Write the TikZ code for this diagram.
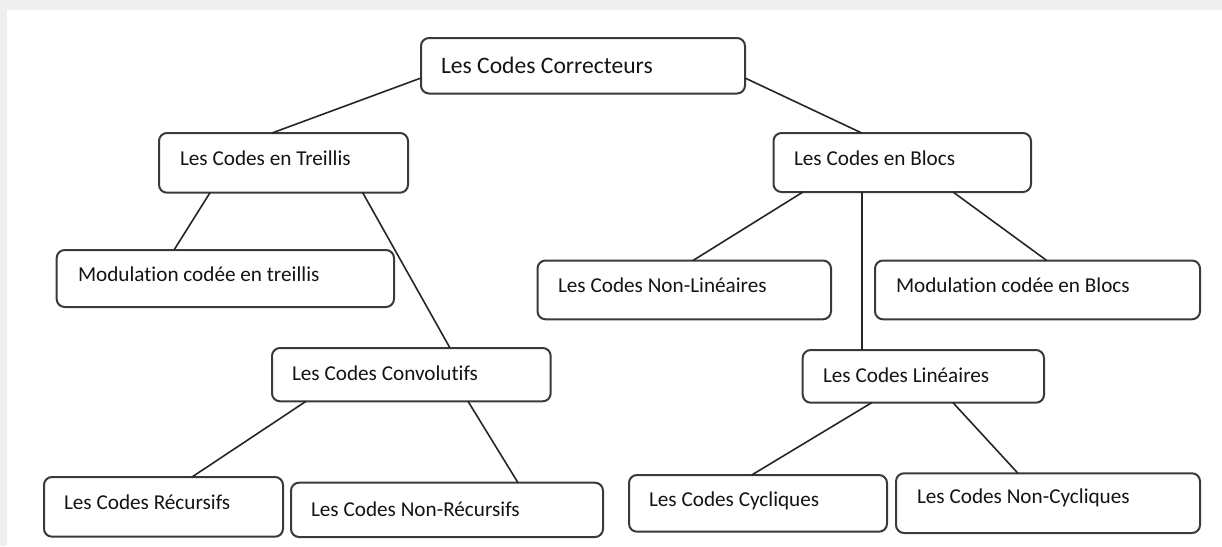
\documentclass[tikz,border=0pt]{standalone}
\usepackage{fontspec}
\setmainfont{Carlito}[Ligatures={NoCommon,TeX}]
\usetikzlibrary{calc}
\definecolor{bggray}{HTML}{EFEFEF}
\definecolor{boxline}{HTML}{3A3A3A}
\definecolor{conline}{HTML}{262626}
\definecolor{txt}{HTML}{141414}
\tikzset{
  box/.style={draw=boxline, line width=2pt, rounded corners=8pt, fill=white, inner sep=0pt, outer sep=0pt},
  lbl/.style={anchor=base west, inner sep=0pt, outer sep=0pt, text=txt, font=\fontsize{21.2}{24}\selectfont},
  toplbl/.style={lbl, font=\fontsize{23.6}{27}\selectfont},
  con/.style={draw=conline, line width=1.6pt}
}
\begin{document}
\begin{tikzpicture}[x=1pt, y=-1pt]
\useasboundingbox (0,0) rectangle (1222,546);
\fill[bggray] (0,0) rectangle (1222,546);
\fill[white] (7,10) rectangle (1222,546);

% boxes
\node[box, minimum width=324, minimum height=55.5] (top) at (583,65.75) {};
\node[box, minimum width=249, minimum height=59.7] (treillis) at (283.5,162.85) {};
\node[box, minimum width=257.5, minimum height=59] (blocs) at (902.25,162.5) {};
\node[box, minimum width=337.3, minimum height=57] (modt) at (225.35,278.5) {};
\node[box, minimum width=293.5, minimum height=58.8] (nonlin) at (684.25,289.9) {};
\node[box, minimum width=325, minimum height=58.8] (modb) at (1037.5,289.9) {};
\node[box, minimum width=278.7, minimum height=53.3] (conv) at (411.35,374.65) {};
\node[box, minimum width=241.3, minimum height=52.7] (lin) at (923.35,376.35) {};
\node[box, minimum width=239, minimum height=59.7] (rec) at (163.5,506.85) {};
\node[box, minimum width=312, minimum height=54.3] (nonrec) at (447,509.85) {};
\node[box, minimum width=258, minimum height=56.7] (cyc) at (758,503.35) {};
\node[box, minimum width=304, minimum height=59.7] (noncyc) at (1048,503.15) {};

% labels
\node[toplbl] (topt) at (441,73.3) {Les Codes Correcteurs};
\node[lbl] (treillist) at (180,165.7) {Les Codes en Treillis};
\node[lbl] (blocst) at (794,165) {Les Codes en Blocs};
\node[lbl] (modtt) at (78,281.7) {Modulation codée en treillis};
\node[lbl] (nonlint) at (558,292.3) {Les Codes Non-Linéaires};
\node[lbl] (modbt) at (896,292.3) {Modulation codée en Blocs};
\node[lbl] (convt) at (292,380.7) {Les Codes Convolutifs};
\node[lbl] (lint) at (823,382.3) {Les Codes Linéaires};
\node[lbl] (rect) at (64,509) {Les Codes Récursifs};
\node[lbl] (nonrect) at (311,516) {Les Codes Non-Récursifs};
\node[lbl] (cyct) at (649,506.7) {Les Codes Cycliques};
\node[lbl] (noncyct) at (917,503.3) {Les Codes Non-Cycliques};

% connectors
\draw[con] ($(top.west)+(0,12.25)$) -- ($(treillis.north)+(-11.5,0)$);
\draw[con] ($(top.east)+(0,12.25)$) -- ($(blocs.north)+(-40.5,0)$);
\draw[con] ($(treillis.south)+(-73.5,0)$) -- ($(modt.north)+(-51.35,0)$);
\draw[con] ($(treillis.south)+(79.2,0)$) -- ($(conv.north)+(38.65,0)$);
\draw[con] ($(blocs.south)+(-99.25,0)$) -- ($(nonlin.north)+(8.75,0)$);
\draw[con] ($(blocs.south)+(-40.25,0)$) -- ($(lin.north)+(-61.35,0)$);
\draw[con] ($(blocs.south)+(50.75,0)$) -- ($(modb.north)+(9.2,0)$);
\draw[con] ($(conv.south)+(-105.35,0)$) -- ($(rec.north)+(28.5,0)$);
\draw[con] ($(conv.south)+(56.65,0)$) -- ($(nonrec.north)+(71,0)$);
\draw[con] ($(lin.south)+(-51.65,0)$) -- ($(cyc.north)+(-6.3,0)$);
\draw[con] ($(lin.south)+(29.65,0)$) -- ($(noncyc.north)+(-30,0)$);
\end{tikzpicture}
\end{document}
